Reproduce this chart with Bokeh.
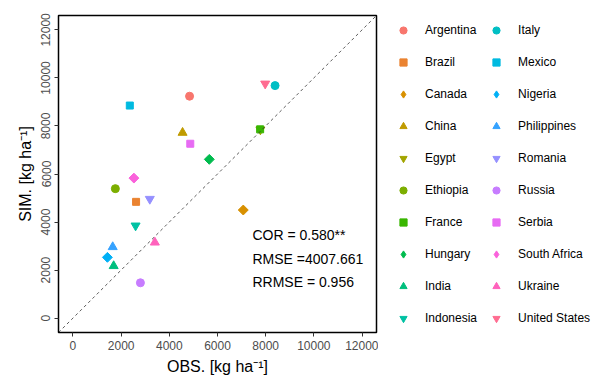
import math
from bokeh.plotting import figure
from bokeh.layouts import row
from bokeh.models import (ColumnDataSource, Legend, LegendItem, Slope, FixedTicker)
from bokeh.core.properties import value
from bokeh.embed import file_html
from bokeh.resources import INLINE

countries = ["Argentina", "Brazil", "Canada", "China", "Egypt", "Ethiopia", "France",
             "Hungary", "India", "Indonesia", "Italy", "Mexico", "Nigeria", "Philippines",
             "Romania", "Russia", "Serbia", "South Africa", "Ukraine", "United States"]
obs = [4840, 2620, 7070, 4550, 7780, 1760, 7770, 5660, 1690, 2600, 8390, 2360, 1430,
       1650, 3190, 2800, 4870, 2530, 3400, 7980]
sim = [9240, 4840, 4500, 7720, 7850, 5390, 7860, 6610, 2170, 3850, 9680, 8850, 2530,
       2960, 4960, 1470, 7260, 5830, 3150, 9760]
colors = ["#F8766D", "#EA8331", "#D89000", "#C09B00", "#A3A500", "#7CAE00", "#39B600",
          "#00BB4E", "#00BF7D", "#00C1A3", "#00BFC4", "#00BAE0", "#00B0F6", "#35A2FF",
          "#9590FF", "#C77CFF", "#E76BF3", "#FA62DB", "#FF62BC", "#FF6C91"]
shape_cycle = ["circle", "square", "diamond", "triangle", "inverted_triangle"]
ticks = [0, 2000, 4000, 6000, 8000, 10000, 12000]
stat_text = ["COR = 0.580**", "RMSE =4007.661", "RRMSE = 0.956"]
stat_x = [7450, 7450, 7450]
stat_y = [3450, 2450, 1500]

FONT = "Liberation Sans"


def marker_style(shape):
    # (bokeh marker, size, angle)
    if shape == "diamond":
        return "square", 7, math.pi / 4
    return shape, {"circle": 8, "square": 7, "triangle": 9, "inverted_triangle": 9}[shape], 0.0


p = figure(width=378, height=386, output_backend="svg", toolbar_location=None,
           x_range=(-600, 12600), y_range=(-600, 12600),
           min_border_left=58, min_border_right=2, min_border_top=15, min_border_bottom=54)
p.background_fill_color = "white"
p.border_fill_color = "white"
p.xgrid.visible = False
p.ygrid.visible = False
p.outline_line_color = "black"
p.outline_line_width = 1.5

for ax in (p.xaxis, p.yaxis):
    ax.ticker = FixedTicker(ticks=ticks)
    ax.axis_line_color = None
    ax.major_tick_out = 4
    ax.major_tick_in = 0
    ax.minor_tick_line_color = None
    ax.major_tick_line_color = "#333333"
    ax.major_label_text_font = FONT
    ax.major_label_text_font_size = "12px"
    ax.major_label_text_color = "#4D4D4D"
    ax.major_label_standoff = 4
    ax.axis_label_text_font = FONT
    ax.axis_label_text_font_size = "16px"
    ax.axis_label_text_font_style = "normal"
    ax.axis_label_text_color = "black"
    ax.axis_label_standoff = 5

p.xaxis.axis_label = "OBS. [kg ha\u207b\u00b9]"
p.yaxis.axis_label = "SIM. [kg ha\u207b\u00b9]"
p.yaxis.major_label_orientation = "vertical"

p.add_layout(Slope(gradient=1, y_intercept=0, line_color="#333333",
                   line_dash="3 3", line_width=0.8))

for i, c in enumerate(countries):
    mk, sz, ang = marker_style(shape_cycle[i % 5])
    src = ColumnDataSource(dict(x=[obs[i]], y=[sim[i]]))
    p.scatter("x", "y", source=src, marker=mk, size=sz, angle=ang,
              fill_color=colors[i], line_color=colors[i])

p.text(x=stat_x, y=stat_y, text=stat_text, text_font=value(FONT),
       text_font_size="14px", text_baseline="middle", text_align="left",
       text_color="black")

# legend panel
lf = figure(width=222, height=386, output_backend="svg", toolbar_location=None,
            x_axis_location=None, y_axis_location=None,
            min_border_left=0, min_border_right=0, min_border_top=0, min_border_bottom=0)
lf.xgrid.visible = False
lf.ygrid.visible = False
lf.outline_line_color = None
lf.background_fill_color = "white"
lf.border_fill_color = "white"

items = []
for i, c in enumerate(countries):
    shp = shape_cycle[i % 5]
    r = lf.scatter(x=[obs[i]], y=[sim[i]], marker=shp, fill_color=colors[i],
                   line_color=colors[i], visible=False)
    items.append(LegendItem(label=c, renderers=[r]))

legend = Legend(items=items, ncols=2, location=(16, 3),
                margin=0, padding=0, spacing=10,
                glyph_width=18, glyph_height=22, label_standoff=13,
                label_text_font=FONT, label_text_font_size="12px",
                label_text_color="black",
                border_line_color=None, background_fill_alpha=0)
lf.add_layout(legend, "center")

layout = row(p, lf, spacing=0)
open("out.html", "w").write(file_html(layout, INLINE))
